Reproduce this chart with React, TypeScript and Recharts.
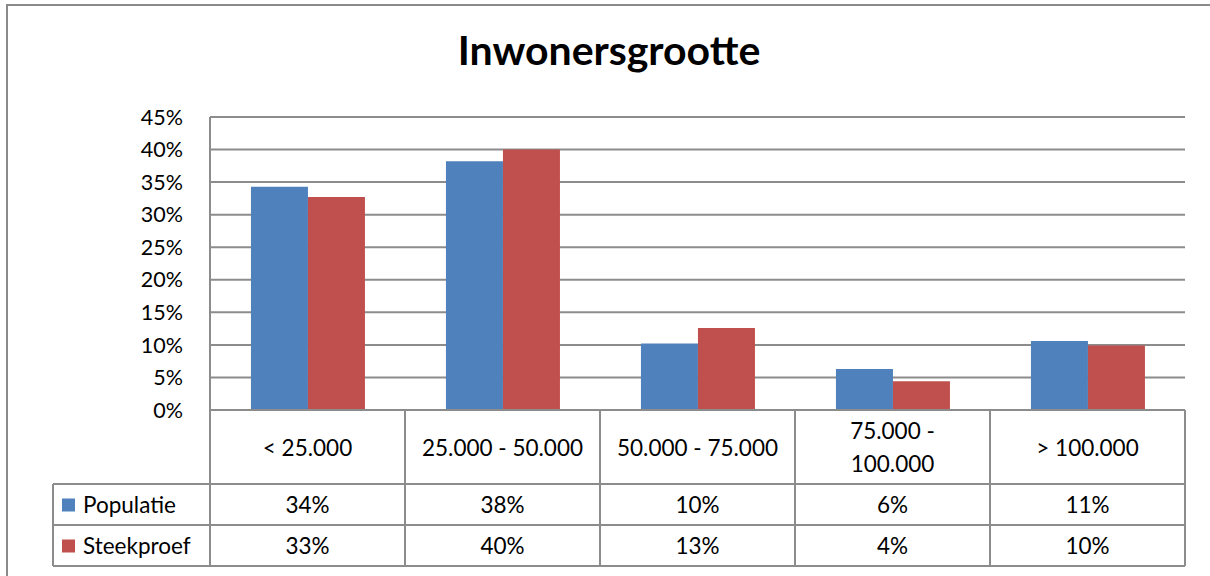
import { BarChart, Bar, XAxis, YAxis, CartesianGrid } from "recharts";

const categories = ["< 25.000", "25.000 - 50.000", "50.000 - 75.000", "75.000 - 100.000", "> 100.000"];
const populatie = [34.3, 38.2, 10.2, 6.3, 10.6];
const steekproef = [32.7, 40.0, 12.6, 4.4, 9.9];
const seriesNames = ["Populatie", "Steekproef"];
const yTicks = [0, 5, 10, 15, 20, 25, 30, 35, 40, 45];

const BLUE = "#4F81BD";
const RED = "#C0504D";
const GRID = "#8c8c8c";
const FONT = "Lato, 'Open Sans', sans-serif";

const W = 1210;
const H = 576;
const MARGIN = { top: 117, right: 25, left: 150, bottom: 9 };
const Y_AXIS_W = 60;
const X_AXIS_H = 157;
const HALF = (W - MARGIN.left - Y_AXIS_W - MARGIN.right) / categories.length / 2;
const CAT_H = 74;
const ROW_H = 41;
const LEGEND_LEFT = 53;

const data = categories.map((name, i) => ({
  name,
  populatie: populatie[i],
  steekproef: steekproef[i],
}));

// "75.000 - 100.000" is too wide for its cell and wraps after the dash
const wrap = (s: string) => (s.length > 15 ? s.replace(" - ", " -|").split("|") : [s]);

const TableTick = (props: any) => {
  const { x, y, index, payload } = props;
  const left = x - HALF;
  const right = x + HALF;
  const r1 = y + CAT_H;
  const r2 = r1 + ROW_H;
  const r3 = r2 + ROW_H;
  const lines = wrap(String(payload.value));
  const textStyle = { fontFamily: FONT, fontSize: 22.5, fill: "#000" };
  const cells = [populatie[index], steekproef[index]];
  return (
    <g>
      <line x1={left} y1={y} x2={left} y2={r3} stroke={GRID} strokeWidth={2} />
      <line x1={right} y1={y} x2={right} y2={r3} stroke={GRID} strokeWidth={2} />
      <line x1={left} y1={r1} x2={right} y2={r1} stroke={GRID} strokeWidth={2} />
      <line x1={left} y1={r2} x2={right} y2={r2} stroke={GRID} strokeWidth={2} />
      <line x1={left} y1={r3} x2={right} y2={r3} stroke={GRID} strokeWidth={2} />
      {lines.map((t, k) => (
        <text
          key={k}
          x={x}
          y={y + CAT_H / 2 + (k - (lines.length - 1) / 2) * 33}
          textAnchor="middle"
          dominantBaseline="central"
          style={textStyle}
        >
          {t}
        </text>
      ))}
      {cells.map((v, k) => (
        <text
          key={"v" + k}
          x={x}
          y={r1 + ROW_H * k + ROW_H / 2}
          textAnchor="middle"
          dominantBaseline="central"
          style={textStyle}
        >
          {Math.round(v)}%
        </text>
      ))}
      {index === 0 && (
        <g>
          <line x1={LEGEND_LEFT} y1={r1} x2={left} y2={r1} stroke={GRID} strokeWidth={2} />
          <line x1={LEGEND_LEFT} y1={r2} x2={left} y2={r2} stroke={GRID} strokeWidth={2} />
          <line x1={LEGEND_LEFT} y1={r3} x2={left} y2={r3} stroke={GRID} strokeWidth={2} />
          <line x1={LEGEND_LEFT} y1={r1} x2={LEGEND_LEFT} y2={r3} stroke={GRID} strokeWidth={2} />
          {seriesNames.map((n, k) => (
            <g key={n}>
              <rect
                x={LEGEND_LEFT + 9}
                y={r1 + ROW_H * k + ROW_H / 2 - 6}
                width={13}
                height={13}
                fill={k === 0 ? BLUE : RED}
              />
              <text
                x={LEGEND_LEFT + 30}
                y={r1 + ROW_H * k + ROW_H / 2}
                dominantBaseline="central"
                style={textStyle}
              >
                {n}
              </text>
            </g>
          ))}
        </g>
      )}
    </g>
  );
};

export default function App() {
  return (
    <div
      style={{
        position: "absolute",
        left: 0,
        top: 0,
        width: W,
        height: H,
        background: "#fff",
        overflow: "hidden",
      }}
    >
      <div
        style={{
          position: "absolute",
          left: 6,
          top: 4,
          width: W,
          height: H + 20,
          borderTop: "2px solid #8a8a8a",
          borderLeft: "2px solid #8a8a8a",
        }}
      />
      <svg style={{ position: "absolute", left: 0, top: 0 }} width={W} height={90}>
        <text
          x={609}
          y={65}
          textAnchor="middle"
          style={{ fontFamily: FONT, fontSize: 41, fontWeight: 700, fill: "#000" }}
        >
          Inwonersgrootte
        </text>
      </svg>
      <div style={{ position: "absolute", left: 0, top: 0 }}>
        <BarChart width={W} height={H} data={data} margin={MARGIN} barGap={0} barCategoryGap="21%">
          <CartesianGrid vertical={false} stroke={GRID} strokeWidth={2} />
          <XAxis
            dataKey="name"
            height={X_AXIS_H}
            interval={0}
            tickLine={false}
            tickSize={0}
            tickMargin={0}
            axisLine={{ stroke: GRID, strokeWidth: 2 }}
            tick={<TableTick />}
          />
          <YAxis
            width={Y_AXIS_W}
            domain={[0, 45]}
            ticks={yTicks}
            tickFormatter={(v: number) => `${v}%`}
            tickLine={false}
            tickSize={0}
            tickMargin={27}
            axisLine={{ stroke: GRID, strokeWidth: 2 }}
            tick={{ fill: "#000", fontSize: 21.5, fontFamily: FONT }}
          />
          <Bar dataKey="populatie" name="Populatie" fill={BLUE} isAnimationActive={false} />
          <Bar dataKey="steekproef" name="Steekproef" fill={RED} isAnimationActive={false} />
        </BarChart>
      </div>
    </div>
  );
}
